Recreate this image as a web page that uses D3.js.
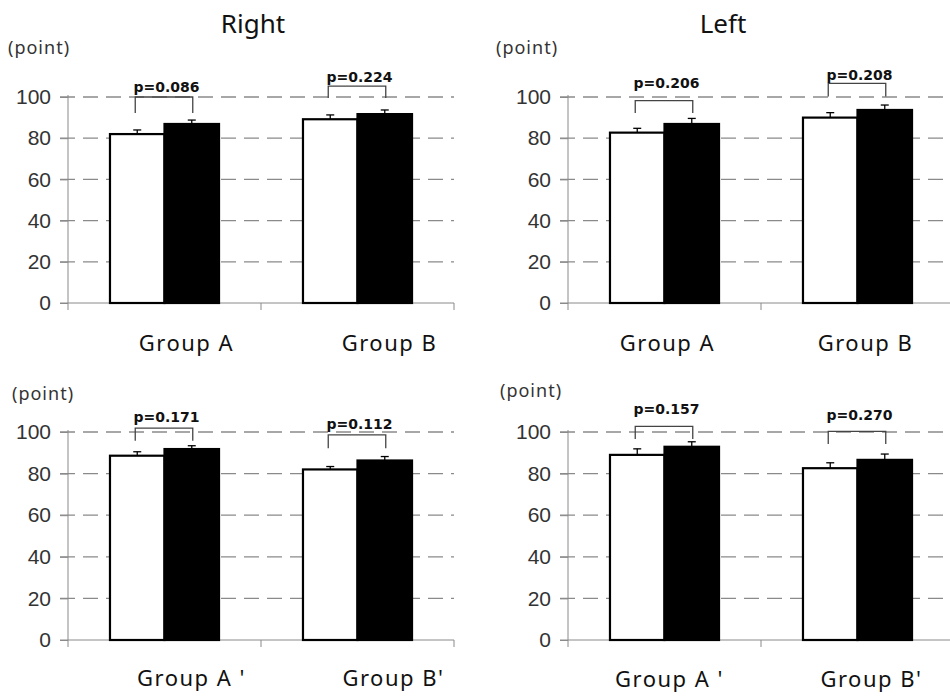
<!DOCTYPE html>
<html>
<head>
<meta charset="utf-8">
<script src="https://cdn.jsdelivr.net/npm/d3@7"></script>
<style>
  body { margin: 0; background: #fff; }
  svg { display: block; }
</style>
</head>
<body>
<svg width="950" height="698"></svg>
<script>
var svg = d3.select("svg");

// data
var titles = ["Right", "Left"];
var groupsTop = ["Group A", "Group B"];
var groupsBottom = ["Group A '", "Group B'"];
var yTicks = [0, 20, 40, 60, 80, 100];

// panel order: top-left, top-right, bottom-left, bottom-right
var whiteMeans = [[82.0, 89.2], [82.7, 90.0], [88.6, 82.0], [89.0, 82.6]];
var blackMeans = [[86.9, 91.7], [86.9, 93.7], [91.8, 86.3], [92.9, 86.6]];
var whiteErr = [[2.0, 2.1], [2.1, 2.4], [1.9, 1.4], [2.9, 2.6]];
var blackErr = [[1.9, 2.0], [2.7, 2.4], [1.6, 1.9], [2.4, 2.8]];

var pValues = [["p=0.086", "p=0.224"], ["p=0.206", "p=0.208"], ["p=0.171", "p=0.112"], ["p=0.157", "p=0.270"]];
// bracket top, bracket leg end and label baseline, in axis units
var bracketTop = [[100.0, 105.3], [98.2, 106.6], [101.9, 98.6], [102.7, 100.3]];
var bracketLeg = [[92.2, 99.5], [92.2, 100.2], [95.8, 92.2], [96.6, 94.2]];
var pLabelLevel = [[102.4, 107.3], [104.4, 108.3], [105.0, 101.4], [108.7, 105.8]];

// layout of the four panels
var panels = [
    {x0: 68, x1: 454, y0: 303, y100: 97, groups: groupsTop, labelY: 351, labelShift: [22, 32], pointX: 8, pointY: 54},
    {x0: 568, x1: 954, y0: 303, y100: 97, groups: groupsTop, labelY: 351, labelShift: [3, 8], pointX: 496, pointY: 54},
    {x0: 68, x1: 454, y0: 640, y100: 432, groups: groupsBottom, labelY: 686, labelShift: [27, 36], pointX: 12, pointY: 400},
    {x0: 568, x1: 954, y0: 640, y100: 432, groups: groupsBottom, labelY: 687, labelShift: [5, 14], pointX: 500, pointY: 397}
];

svg.selectAll("text.title")
    .data(titles)
    .enter().append("text")
    .attr("class", "title")
    .attr("x", function (d, i) { return i == 0 ? 253 : 723; })
    .attr("y", 33)
    .attr("text-anchor", "middle")
    .style("font-family", "'Noto Sans', sans-serif")
    .style("font-size", "26px")
    .style("fill", "#111")
    .text(function (d) { return d; });

panels.forEach(function (p, k) {
    var g = svg.append("g");

    var y = d3.scaleLinear().domain([0, 100]).range([p.y0, p.y100]);
    var x = d3.scaleBand().domain(p.groups).range([p.x0, p.x1]).padding(0);
    var sub = d3.scaleBand().domain(["white", "black"]).range([0, x.bandwidth()])
        .paddingInner(0).paddingOuter(0.77);

    // dashed grid
    g.append("g")
        .selectAll("line")
        .data(yTicks.filter(function (t) { return t > 0; }))
        .enter().append("line")
        .attr("x1", p.x0 - 8)
        .attr("x2", p.x1)
        .attr("y1", function (d) { return y(d); })
        .attr("y2", function (d) { return y(d); })
        .attr("stroke", "#8a8a8a")
        .attr("stroke-width", 1.3)
        .attr("stroke-dasharray", "15,8");

    // y axis
    var yAxis = d3.axisLeft(y).tickValues(yTicks).tickSize(8).tickPadding(9);
    var ya = g.append("g").attr("transform", "translate(" + p.x0 + ",0)").call(yAxis);
    ya.select(".domain").attr("stroke", "#8a8a8a").attr("d", "M0," + (p.y0) + "V" + (p.y100 - 2));
    ya.selectAll(".tick line").attr("stroke", "#8a8a8a");
    ya.selectAll(".tick text")
        .style("font-family", "'Liberation Sans', Arial, sans-serif")
        .style("font-size", "21px")
        .style("fill", "#333");

    // x axis
    var xa = g.append("g").attr("transform", "translate(0," + p.y0 + ")");
    xa.append("line")
        .attr("x1", p.x0 - 8).attr("x2", p.x1)
        .attr("stroke", "#8a8a8a");
    xa.selectAll("line.tk")
        .data([p.x0, p.x0 + x.bandwidth(), p.x1])
        .enter().append("line")
        .attr("class", "tk")
        .attr("x1", function (d) { return d; })
        .attr("x2", function (d) { return d; })
        .attr("y1", 0).attr("y2", 7)
        .attr("stroke", "#8a8a8a");

    // group labels
    g.selectAll("text.grp")
        .data(p.groups)
        .enter().append("text")
        .attr("class", "grp")
        .attr("x", function (d, i) { return x(d) + x.bandwidth() / 2 + p.labelShift[i]; })
        .attr("y", p.labelY)
        .attr("text-anchor", "middle")
        .style("font-family", "'Noto Sans', sans-serif")
        .style("font-size", "22px")
        .style("letter-spacing", "1.5px")
        .style("fill", "#111")
        .text(function (d) { return d; });

    g.append("text")
        .attr("x", p.pointX)
        .attr("y", p.pointY)
        .style("font-family", "'Noto Sans', sans-serif")
        .style("font-size", "18px")
        .style("letter-spacing", "1px")
        .style("fill", "#333")
        .text("(point)");

    var rows = p.groups.map(function (grp, i) {
        return [
            {grp: grp, i: i, s: "white", v: whiteMeans[k][i], e: whiteErr[k][i]},
            {grp: grp, i: i, s: "black", v: blackMeans[k][i], e: blackErr[k][i]}
        ];
    });
    var bars = d3.merge(rows);

    function cx(d) { return x(d.grp) + sub(d.s) + sub.bandwidth() / 2; }

    // error bars
    var err = g.append("g").selectAll("g")
        .data(bars)
        .enter().append("g");
    err.append("line")
        .attr("x1", cx).attr("x2", cx)
        .attr("y1", function (d) { return y(d.v); })
        .attr("y2", function (d) { return y(d.v + d.e); })
        .attr("stroke", "#000")
        .attr("stroke-width", 1.3);
    err.append("line")
        .attr("x1", function (d) { return cx(d) - 4; })
        .attr("x2", function (d) { return cx(d) + 4; })
        .attr("y1", function (d) { return y(d.v + d.e); })
        .attr("y2", function (d) { return y(d.v + d.e); })
        .attr("stroke", "#000")
        .attr("stroke-width", 1.3);

    // bars
    g.append("g").selectAll("rect")
        .data(bars)
        .enter().append("rect")
        .attr("x", function (d) { return x(d.grp) + sub(d.s); })
        .attr("y", function (d) { return y(d.v); })
        .attr("width", sub.bandwidth())
        .attr("height", function (d) { return y(0) - y(d.v); })
        .attr("fill", function (d) { return d.s == "white" ? "#fff" : "#000"; })
        .attr("stroke", "#000")
        .attr("stroke-width", 2.2);

    // significance brackets
    var br = g.append("g").selectAll("g")
        .data(p.groups)
        .enter().append("g");
    br.append("path")
        .attr("d", function (d, i) {
            var xa = x(d) + sub("white") + sub.bandwidth() / 2 - 2;
            var xb = x(d) + sub("black") + sub.bandwidth() / 2 + 1;
            var top = y(bracketTop[k][i]);
            var leg = y(bracketLeg[k][i]);
            return "M" + xa + "," + leg + "V" + top + "H" + xb + "V" + leg;
        })
        .attr("fill", "none")
        .attr("stroke", "#444")
        .attr("stroke-width", 1.3);
    br.append("text")
        .attr("x", function (d) { return x(d) + x.bandwidth() / 2 + 2; })
        .attr("y", function (d, i) { return y(pLabelLevel[k][i]); })
        .attr("text-anchor", "middle")
        .style("font-family", "'DejaVu Sans', sans-serif")
        .style("font-weight", "bold")
        .style("font-size", "14px")
        .style("fill", "#111")
        .text(function (d, i) { return pValues[k][i]; });
});
</script>
</body>
</html>
